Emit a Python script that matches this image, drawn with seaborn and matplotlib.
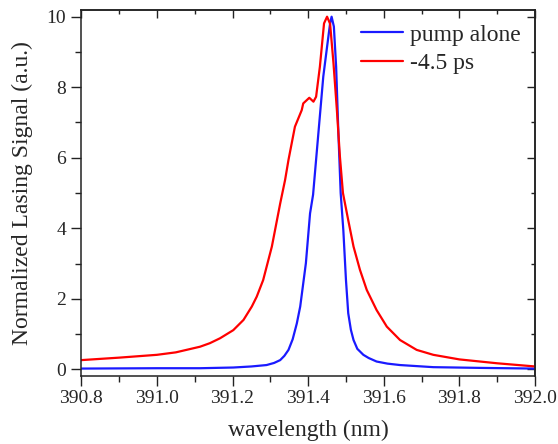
import numpy as np
import pandas as pd
import matplotlib
matplotlib.use("Agg")
import matplotlib.pyplot as plt
import seaborn as sns
from matplotlib.ticker import MultipleLocator, FormatStrFormatter

# values
pump_wl = [390.80, 391.00, 391.114, 391.202, 391.25, 391.29, 391.31, 391.326,
           391.337, 391.348, 391.359, 391.370, 391.379, 391.394, 391.405, 391.413,
           391.427, 391.440, 391.449, 391.458, 391.462, 391.468, 391.474, 391.480,
           391.486, 391.493, 391.500, 391.506, 391.513, 391.520, 391.530, 391.546,
           391.560, 391.581, 391.610, 391.643, 391.731, 391.85, 392.00]
pump_sig = [0.02, 0.03, 0.03, 0.05, 0.08, 0.12, 0.18, 0.26,
            0.38, 0.55, 0.85, 1.30, 1.78, 3.01, 4.42, 4.95,
            6.69, 8.30, 9.06, 9.81, 10.0, 9.72, 8.58, 6.69,
            5.0, 3.95, 2.53, 1.59, 1.12, 0.83, 0.58, 0.41,
            0.32, 0.22, 0.16, 0.12, 0.06, 0.04, 0.02]

delay_wl = [390.80, 390.90, 391.00, 391.05, 391.114, 391.14, 391.167, 391.202,
            391.229, 391.251, 391.264, 391.281, 391.304, 391.326, 391.339, 391.348,
            391.365, 391.383, 391.387, 391.403, 391.414, 391.421, 391.431, 391.442,
            391.450, 391.458, 391.467, 391.476, 391.484, 391.492, 391.506, 391.520,
            391.537, 391.555, 391.581, 391.608, 391.643, 391.687, 391.731, 391.80,
            391.90, 392.00]
delay_sig = [0.26, 0.33, 0.41, 0.48, 0.64, 0.74, 0.88, 1.11,
             1.40, 1.78, 2.06, 2.53, 3.48, 4.70, 5.37, 5.94,
             6.88, 7.35, 7.54, 7.70, 7.59, 7.73, 8.58, 9.81,
             10.0, 9.8, 8.68, 7.35, 6.03, 5.0, 4.23, 3.48,
             2.82, 2.25, 1.68, 1.21, 0.83, 0.55, 0.41, 0.28,
             0.17, 0.08]

sns.set_style("ticks")
plt.rcParams['font.family'] = ['Liberation Serif', 'DejaVu Serif']

fig = plt.figure(figsize=(5.58, 4.44), dpi=100)
ax = fig.add_axes([0.1457, 0.1532, 0.8131, 0.8243])

pump = pd.DataFrame({'wl': pump_wl, 'sig': pump_sig})
delay = pd.DataFrame({'wl': delay_wl, 'sig': delay_sig})
sns.lineplot(data=pump, x='wl', y='sig', color='#1a1aff', lw=1.6, label='pump alone', ax=ax, sort=False)
sns.lineplot(data=delay, x='wl', y='sig', color='#ff0000', lw=1.6, label='-4.5 ps', ax=ax, sort=False)

ax.set_xlim(390.8, 392.0)
ax.set_ylim(-0.19, 10.19)

ax.xaxis.set_major_locator(MultipleLocator(0.2))
ax.xaxis.set_minor_locator(MultipleLocator(0.1))
ax.yaxis.set_major_locator(MultipleLocator(2))
ax.yaxis.set_minor_locator(MultipleLocator(1))
ax.xaxis.set_major_formatter(FormatStrFormatter('%.1f'))
ax.tick_params(which='both', direction='out', top=False, right=False, labelsize=14,
               width=1, color='#222222')
ax.tick_params(which='major', length=7)
ax.tick_params(which='minor', length=4)
ax.tick_params(axis='x', pad=3)
ax.tick_params(axis='y', pad=4)

# mirrored ticks on top and right point inwards
top = ax.secondary_xaxis('top')
right = ax.secondary_yaxis('right')
for a, ticks in ((top, top.xaxis), (right, right.yaxis)):
    ticks.set_major_locator(MultipleLocator(0.2 if a is top else 2))
    ticks.set_minor_locator(MultipleLocator(0.1 if a is top else 1))
    a.tick_params(which='both', direction='in', labeltop=False, labelright=False,
                  width=1, color='#222222')
    a.tick_params(which='major', length=6)
    a.tick_params(which='minor', length=3)
    for s in a.spines.values():
        s.set_linewidth(1.1)
        s.set_color('#222222')

for s in ax.spines.values():
    s.set_linewidth(1.1)
    s.set_color('#222222')

ax.set_xlabel('wavelength (nm)', fontsize=17, labelpad=9)
ax.set_ylabel('Normalized Lasing Signal (a.u.)', fontsize=17, labelpad=10)
ax.legend(loc='upper right', frameon=False, fontsize=17, handlelength=1.8,
          handletextpad=0.3, labelspacing=0.28, borderaxespad=0.2)

fig.savefig('out.png', dpi=100)
